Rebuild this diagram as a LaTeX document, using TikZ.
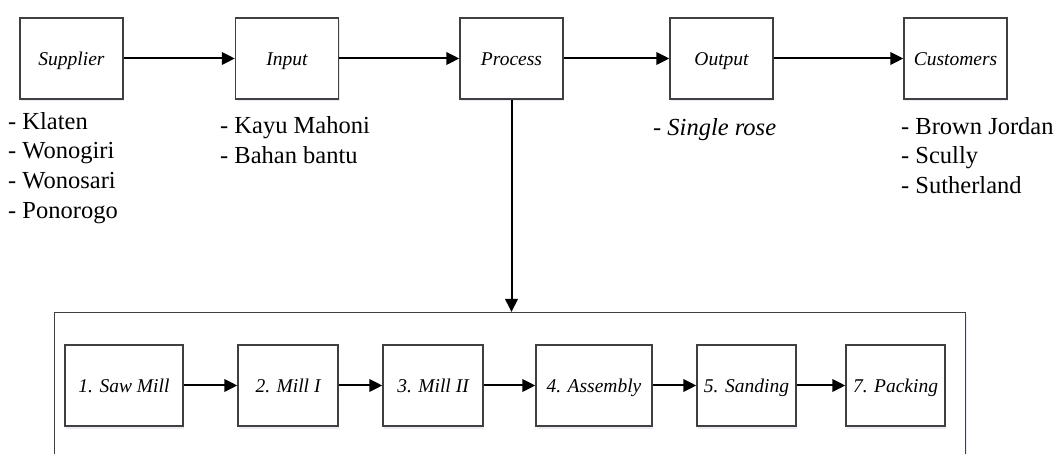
\documentclass[tikz,border=0pt]{standalone}
\usepackage{fontspec}
\setmainfont{Liberation Serif}
\usetikzlibrary{arrows.meta,shadows}
\begin{document}
\begin{tikzpicture}[x=1bp,y=-1bp,
  shade/.style={drop shadow={shadow xshift=1bp, shadow yshift=-2.5bp, fill=cyan!40!blue!12, opacity=0.7}},
  box/.style={draw=black!75, line width=1.4bp, fill=white, minimum height=81bp, inner sep=0pt, text height=18bp, text depth=4bp, font=\fontsize{19.5bp}{23bp}\selectfont\itshape, shade},
  topbox/.style={box, minimum width=103bp},
  listtxt/.style={anchor=base west, inner sep=0pt, font=\fontsize{24.5bp}{29.5bp}\selectfont},
  arr/.style={-{Triangle[length=13bp,width=12.5bp]}, line width=2bp, black}
]
\clip (0,0) rectangle (1057,454);
\fill[white] (0,0) rectangle (1057,454);

% container
\node[draw=black!75, line width=1.4bp, fill=white, shade, minimum width=911bp, minimum height=180bp, inner sep=0pt, anchor=north west] (cont) at (54,312) {};

% top row
\node[topbox] (sup) at (71.5,58.5) {Supplier};
\node[topbox] (inp) at (287,58.5) {Input};
\node[topbox] (proc) at (511.5,58.5) {Process};
\node[topbox] (out) at (721.5,58.5) {Output};
\node[topbox] (cus) at (955.5,58.5) {Customers};

\draw[arr] (sup) -- (inp);
\draw[arr] (inp) -- (proc);
\draw[arr] (proc) -- (out);
\draw[arr] (out) -- (cus);
\draw[arr] (proc.south) -- (proc.south |- cont.north);

% lists
\node[listtxt] (s1) at (8,129.5) {- Klaten};
\node[listtxt] (s2) at (8,159) {- Wonogiri};
\node[listtxt] (s3) at (8,188.7) {- Wonosari};
\node[listtxt] (s4) at (8,218.4) {- Ponorogo};

\node[listtxt] (i1) at (220,133.5) {- Kayu Mahoni};
\node[listtxt] (i2) at (220,163.3) {- Bahan bantu};

\node[listtxt] (o1) at (653,136) {- \textit{Single rose}};

\node[listtxt] (c1) at (901,134.3) {- Brown Jordan};
\node[listtxt] (c2) at (901,164) {- Scully};
\node[listtxt] (c3) at (901,193.5) {- Sutherland};

% bottom row
\node[box, minimum width=118bp] (b1) at (124,385.5) {1. Saw Mill};
\node[box, minimum width=100bp] (b2) at (288,385.5) {2. Mill I};
\node[box, minimum width=100bp] (b3) at (433,385.5) {3. Mill II};
\node[box, minimum width=116bp] (b4) at (594,385.5) {4. Assembly};
\node[box, minimum width=99bp] (b5) at (746.5,385.5) {5. Sanding};
\node[box, minimum width=99bp] (b7) at (895.5,385.5) {7. Packing};

\draw[arr] (b1) -- (b2);
\draw[arr] (b2) -- (b3);
\draw[arr] (b3) -- (b4);
\draw[arr] (b4) -- (b5);
\draw[arr] (b5) -- (b7);
\end{tikzpicture}
\end{document}
